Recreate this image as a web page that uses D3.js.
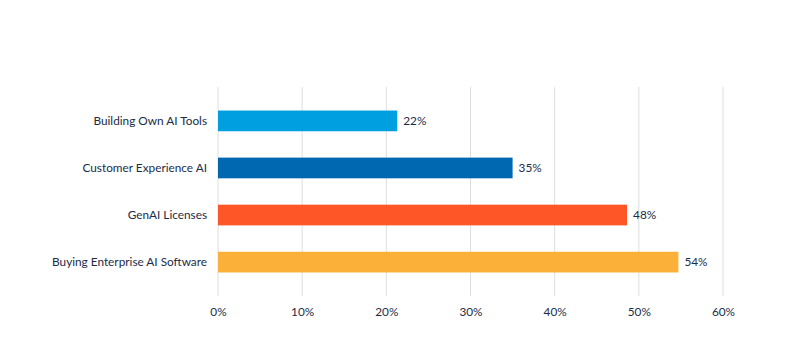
<!DOCTYPE html>
<html>
<head>
<meta charset="utf-8">
<script src="https://cdn.jsdelivr.net/npm/d3@7"></script>
<style>
  body { margin: 0; background: #fff; }
  svg { display: block; font-family: Lato, sans-serif; }
</style>
</head>
<body>
<svg id="drawing_region"></svg>
<script>
const categories = ['Building Own AI Tools', 'Customer Experience AI', 'GenAI Licenses', 'Buying Enterprise AI Software'];
const values = [21.3, 35.0, 48.6, 54.7];
const valueLabels = ['22%', '35%', '48%', '54%'];
const colors = ['#009fe0', '#0068b1', '#ff5627', '#fbb03a'];
const xTicks = [0, 10, 20, 30, 40, 50, 60];

const width = 800, height = 353;
const margin = {top: 87, right: 77, bottom: 57, left: 218};
const fontSize = '11.8px';

const svg = d3.select('#drawing_region')
    .attr('width', width)
    .attr('height', height);

const inner_width = width - margin.left - margin.right;
const inner_height = height - margin.top - margin.bottom;

const chart = svg.append('g')
    .attr('transform', `translate(${margin.left}, ${margin.top})`);

const xscale = d3.scaleLinear()
    .domain([0, 60])
    .range([0, inner_width]);

const yscale = d3.scaleBand()
    .domain(categories)
    .range([0, inner_height])
    .paddingInner(0.56)
    .paddingOuter(0.5);

// gridlines
chart.selectAll('.grid')
    .data(xTicks)
    .enter()
    .append('line')
    .attr('class', 'grid')
    .attr('x1', d => xscale(d))
    .attr('x2', d => xscale(d))
    .attr('y1', 0)
    .attr('y2', inner_height)
    .attr('stroke', '#dedede')
    .attr('stroke-width', 1);

// x axis labels
const xaxis = d3.axisBottom(xscale)
    .tickValues(xTicks)
    .tickFormat(d => d + '%')
    .tickSize(0)
    .tickPadding(12);

chart.append('g')
    .attr('transform', `translate(0, ${inner_height})`)
    .call(xaxis)
    .call(g => g.select('.domain').remove())
    .selectAll('text')
    .attr('fill', '#1b2c48')
    .style('font-size', fontSize)
    .style('font-family', 'Lato, sans-serif');

// y axis labels
const yaxis = d3.axisLeft(yscale)
    .tickSize(0)
    .tickPadding(11);

chart.append('g')
    .call(yaxis)
    .call(g => g.select('.domain').remove())
    .selectAll('text')
    .attr('fill', '#1b2c48')
    .style('font-size', fontSize)
    .style('font-family', 'Lato, sans-serif');

// bars
chart.selectAll('.bar')
    .data(categories)
    .enter()
    .append('rect')
    .attr('class', 'bar')
    .attr('x', xscale(0))
    .attr('y', d => yscale(d))
    .attr('width', (d, i) => xscale(values[i]) - xscale(0))
    .attr('height', yscale.bandwidth())
    .attr('fill', (d, i) => colors[i]);

// value labels
chart.selectAll('.value')
    .data(categories)
    .enter()
    .append('text')
    .attr('class', 'value')
    .attr('x', (d, i) => xscale(values[i]) + 6)
    .attr('y', d => yscale(d) + yscale.bandwidth() / 2)
    .attr('dy', '0.35em')
    .attr('fill', '#1b2c48')
    .style('font-size', fontSize)
    .text((d, i) => valueLabels[i]);
</script>
</body>
</html>
